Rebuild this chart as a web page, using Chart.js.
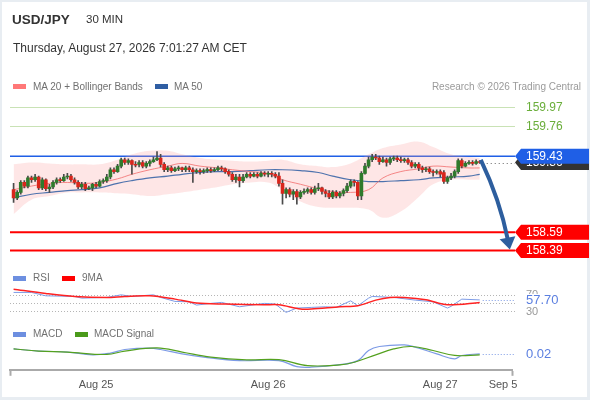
<!DOCTYPE html>
<html><head><meta charset="utf-8">
<script src="https://cdn.jsdelivr.net/npm/chart.js@4.4.1/dist/chart.umd.min.js"></script>
<style>
html,body{margin:0;padding:0;}
body{width:590px;height:400px;background:#e8edf2;position:relative;overflow:hidden;font-family:"Liberation Sans",Arial,sans-serif;}
#card{position:absolute;left:2px;top:2px;width:585px;height:395px;background:#fff;}
#c{position:absolute;left:0;top:0;}
.t{position:absolute;white-space:nowrap;color:#707070;font-size:10px;line-height:1;}
.sw{position:absolute;width:13px;height:5px;}
</style></head>
<body>
<div id="card"></div>
<canvas id="c" width="590" height="400"></canvas>
<div class="t" style="left:12px;top:12.5px;font-size:13.5px;font-weight:bold;color:#333">USD/JPY</div>
<div class="t" style="left:86px;top:13.5px;font-size:11.5px;color:#333">30 MIN</div>
<div class="t" style="left:13px;top:42px;font-size:12px;color:#333">Thursday, August 27, 2026 7:01:27 AM CET</div>
<div class="sw" style="left:13px;top:84px;background:#ff7878"></div>
<div class="t" style="left:33px;top:81.5px">MA 20 + Bollinger Bands</div>
<div class="sw" style="left:155px;top:84px;background:#2f5ea3"></div>
<div class="t" style="left:174px;top:81.5px">MA 50</div>
<div class="t" style="right:9px;top:81.5px;color:#9a9a9a">Research © 2026 Trading Central</div>
<div class="sw" style="left:13px;top:275.5px;background:#6d8fe0"></div>
<div class="t" style="left:33px;top:273px">RSI</div>
<div class="sw" style="left:62px;top:275.5px;background:#f00"></div>
<div class="t" style="left:82px;top:273px">9MA</div>
<div class="sw" style="left:13px;top:331.5px;background:#6d8fe0"></div>
<div class="t" style="left:33px;top:329.3px">MACD</div>
<div class="sw" style="left:75px;top:331.5px;background:#4a9a1a"></div>
<div class="t" style="left:94px;top:329.3px">MACD Signal</div>
<script>
// ---------- DATA ----------
const firstBar = -23; // bar index of first candle (Aug 25 00:00 = 0, 30-min bars)
const opens = [159.06,158.97,159.03,159.14,159.10,159.19,159.17,159.20,159.08,159.17,
159.07,159.09,159.14,159.17,159.16,159.20,159.21,159.17,159.14,159.09,
159.12,159.07,159.08,159.12,159.10,159.15,159.16,159.20,159.28,159.26,
159.32,159.39,159.36,159.38,159.34,159.34,159.36,159.32,159.35,159.37,
159.39,159.41,159.34,159.28,159.30,159.27,159.29,159.30,159.28,159.30,
159.28,159.26,159.27,159.26,159.27,159.28,159.27,159.28,159.30,159.29,
159.26,159.23,159.17,159.20,159.16,159.20,159.23,159.21,159.23,159.21,
159.24,159.23,159.24,159.23,159.21,159.13,159.02,159.06,159.01,159.04,
158.98,159.03,159.04,159.06,159.03,159.07,159.08,159.04,159.02,158.98,
159.03,158.99,159.02,159.05,159.10,159.15,159.14,158.99,159.24,159.32,
159.39,159.42,159.41,159.37,159.39,159.36,159.40,159.41,159.39,159.38,
159.39,159.36,159.32,159.34,159.30,159.28,159.29,159.26,159.25,159.26,
159.25,159.15,159.19,159.21,159.26,159.38,159.32,159.35,159.36,159.35,
159.37];
const closes = [158.97,159.03,159.14,159.10,159.19,159.17,159.20,159.08,159.17,159.07,
159.09,159.14,159.17,159.16,159.20,159.21,159.17,159.14,159.09,159.12,
159.07,159.08,159.12,159.10,159.15,159.16,159.20,159.28,159.26,159.32,
159.39,159.36,159.38,159.34,159.33,159.36,159.32,159.35,159.37,159.39,
159.41,159.34,159.28,159.30,159.27,159.29,159.30,159.28,159.30,159.28,
159.26,159.27,159.26,159.27,159.28,159.27,159.28,159.30,159.29,159.26,
159.23,159.17,159.20,159.16,159.20,159.23,159.21,159.23,159.21,159.24,
159.23,159.24,159.23,159.21,159.13,159.02,159.06,159.01,159.04,158.98,
159.03,159.04,159.06,159.03,159.07,159.08,159.04,159.02,158.98,159.03,
158.99,159.02,159.05,159.10,159.15,159.14,158.99,159.24,159.32,159.39,
159.42,159.41,159.37,159.39,159.36,159.40,159.41,159.39,159.38,159.39,
159.36,159.32,159.34,159.30,159.28,159.29,159.26,159.25,159.26,159.23,
159.15,159.19,159.21,159.26,159.38,159.32,159.35,159.36,159.35,159.37,
159.36];
const highs = [159.13,159.05,159.16,159.16,159.21,159.21,159.23,159.21,159.19,159.18,
159.12,159.16,159.19,159.19,159.23,159.24,159.23,159.19,159.16,159.14,
159.14,159.10,159.13,159.14,159.17,159.18,159.23,159.30,159.30,159.34,
159.41,159.41,159.40,159.39,159.37,159.38,159.38,159.37,159.39,159.42,
159.48,159.45,159.36,159.32,159.32,159.31,159.32,159.31,159.32,159.32,
159.30,159.29,159.29,159.29,159.30,159.30,159.30,159.32,159.32,159.30,
159.28,159.25,159.23,159.23,159.23,159.25,159.25,159.25,159.25,159.26,
159.26,159.26,159.26,159.25,159.25,159.17,159.08,159.08,159.06,159.06,
159.05,159.07,159.08,159.08,159.10,159.13,159.09,159.06,159.05,159.05,
159.05,159.04,159.07,159.13,159.17,159.17,159.15,159.26,159.35,159.42,
159.45,159.45,159.43,159.42,159.41,159.42,159.43,159.43,159.42,159.41,
159.41,159.38,159.36,159.36,159.32,159.31,159.31,159.28,159.28,159.28,
159.27,159.21,159.24,159.28,159.40,159.40,159.37,159.38,159.38,159.39,
159.38];
const lows = [158.92,158.95,159.01,159.08,159.08,159.14,159.15,159.06,159.06,159.05,
159.03,159.07,159.12,159.14,159.15,159.18,159.15,159.12,159.07,159.07,
159.05,159.06,159.05,159.08,159.09,159.13,159.14,159.18,159.24,159.25,
159.30,159.34,159.34,159.23,159.31,159.31,159.30,159.30,159.32,159.36,
159.38,159.31,159.26,159.26,159.25,159.26,159.27,159.26,159.26,159.26,
159.14,159.24,159.23,159.24,159.25,159.25,159.26,159.27,159.27,159.24,
159.21,159.15,159.14,159.09,159.14,159.19,159.19,159.20,159.19,159.20,
159.21,159.20,159.20,159.19,159.10,158.90,158.97,158.98,158.95,158.90,
158.96,159.01,159.02,159.01,159.01,159.05,159.01,158.98,158.96,158.96,
158.97,158.97,158.99,159.03,159.08,159.10,158.95,158.95,159.23,159.30,
159.37,159.39,159.34,159.36,159.32,159.34,159.38,159.37,159.36,159.36,
159.34,159.30,159.30,159.27,159.25,159.26,159.24,159.21,159.23,159.20,
159.13,159.13,159.17,159.19,159.24,159.30,159.31,159.34,159.33,159.34,
159.35];

const maIdx     = [-23,-18,-13,-8,-4,1,6,10,15,20,24,29,34,38,43,48,52,57,62,66,71,76,80,85,90,94,99,104,107];
const bandUpper = [159.34,159.36,159.35,159.34,159.34,159.34,159.39,159.45,159.49,159.49,159.45,159.41,159.39,159.38,159.37,159.38,159.39,159.34,159.32,159.31,159.35,159.45,159.52,159.56,159.59,159.53,159.45,159.42,159.41];
const bandLower = [158.79,158.95,158.99,159.03,159.03,159.03,159.02,159.01,158.99,159.01,159.03,159.06,159.09,159.12,159.14,159.14,159.06,158.93,158.87,158.86,158.86,158.84,158.75,158.82,158.98,159.12,159.17,159.17,159.17];
const ma20      = [159.06,159.10,159.13,159.14,159.13,159.14,159.18,159.23,159.28,159.32,159.35,159.32,159.30,159.28,159.26,159.24,159.17,159.12,159.07,159.04,159.03,159.06,159.19,159.26,159.29,159.32,159.31,159.30,159.30];
const ma50      = [158.97,159.01,159.03,159.05,159.06,159.08,159.13,159.16,159.19,159.21,159.23,159.25,159.26,159.26,159.27,159.28,159.28,159.27,159.25,159.21,159.17,159.15,159.15,159.16,159.17,159.19,159.20,159.21,159.23];

const resistanceLevels = [159.97, 159.76];
const pivotLevel = 159.43;
const supportLevels = [158.59, 158.39];
const arrowPath = [[107.3,159.39],[112.6,158.95],[115.4,158.40]]; // start, control, target

const rsiIdx  = [-23,-18,-14,-6,-4,3,7,10,16,18,22,26,28,32,35,40,47,50,53,56,60,64,67,71,73,76,77,83,89,94,98,99,102,107];
const rsiVals = [75.8,75.8,67.6,66.1,62.0,63.7,70.0,66.1,70.0,63.7,54.1,53.1,45.2,49.3,51.7,41.1,49.3,47.6,27.6,38.0,39.6,41.1,39.6,55.5,43.5,62.0,66.1,63.7,57.2,53.1,38.0,42.1,59.6,57.7];
const rsiMaIdx  = [-23,-14,-6,3,8,15,22,28,36,47,51,57,60,68,73,78,82,86,92,98,107];
const rsiMaVals = [83.7,73.4,66.1,63.7,66.1,67.6,59.6,50,47.6,45.9,45.9,35.6,35.6,41.1,43.5,57.2,63.7,63.7,57.9,45.9,51.7];
const rsiLevels = [70, 50, 30];
const rsiLabels = ['70','30'];

const macdIdx  = [-23,-16,-8,-1,4,8,15,18,24,30,40,51,56,60,68,73,76,79,86,89,95,100,102,107];
const macdVals = [0.045,0.034,0.029,0.015,0.024,0.042,0.049,0.042,0.020,0.004,-0.014,-0.014,-0.044,-0.047,-0.034,-0.014,0.037,0.057,0.065,0.054,0.020,-0.005,0.012,0.020];
const signalIdx  = [-23,-16,-8,3,8,17,24,32,42,51,59,68,72,78,83,88,94,100,107];
const signalVals = [0.045,0.034,0.029,0.017,0.034,0.050,0.029,0.004,-0.010,-0.009,-0.039,-0.035,-0.022,0.015,0.045,0.057,0.037,0.012,0.015];

const xTickValues = [0, 48, 96, 113.5];
const xTickLabels = ['Aug 25', 'Aug 26', 'Aug 27', 'Sep 5'];
const xRange = [-24, 116];

// ---------- BUILD ----------
Chart.defaults.font.family = '"Liberation Sans", Arial, sans-serif';
const pts = (xs, ys) => xs.map((x, i) => ({x, y: ys[i]}));
const barX = opens.map((_, i) => firstBar + i);
const lastX = barX[barX.length - 1];
const UP = '#2f7a2c', DOWN = '#d9261c';

const datasets = [
  {type:'line', data: pts(maIdx, bandUpper), yAxisID:'yP', borderWidth:0, pointRadius:0, fill:'+1', backgroundColor:'rgba(250,150,150,0.24)', tension:0.4, order:10},
  {type:'line', data: pts(maIdx, bandLower), yAxisID:'yP', borderWidth:0, pointRadius:0, fill:false, tension:0.4, order:10},
  {type:'line', data: pts(maIdx, ma20), yAxisID:'yP', borderColor:'rgba(240,100,100,0.75)', borderWidth:1, pointRadius:0, tension:0.4, order:9},
  {type:'line', data: pts(maIdx, ma50), yAxisID:'yP', borderColor:'rgba(47,94,163,0.85)', borderWidth:1.2, pointRadius:0, tension:0.4, order:9},
  {type:'bar', data: barX.map((x,i)=>({x, y:[lows[i], highs[i]]})), yAxisID:'yP', barThickness:1, backgroundColor:'#4a4a4a', grouped:false, order:3},
  {type:'bar', data: barX.map((x,i)=>({x, y:[opens[i], closes[i]]})), yAxisID:'yP', barThickness:3, minBarLength:1, grouped:false, order:2,
    backgroundColor: opens.map((o,i)=> closes[i] >= o ? UP : DOWN)},
  {type:'line', data: pts(rsiIdx, rsiVals), yAxisID:'yR', borderColor:'#7d9be6', borderWidth:1, pointRadius:0, tension:0, order:5},
  {type:'line', data: pts(rsiMaIdx, rsiMaVals), yAxisID:'yR', borderColor:'#f22', borderWidth:1.5, pointRadius:0, tension:0.3, order:4},
  {type:'line', data: pts(macdIdx, macdVals), yAxisID:'yM', borderColor:'#7d9be6', borderWidth:1.2, pointRadius:0, tension:0.4, order:5},
  {type:'line', data: pts(signalIdx, signalVals), yAxisID:'yM', borderColor:'#54a11f', borderWidth:1.2, pointRadius:0, tension:0.4, order:4}
];

function tag(ctx, tipX, y, text, bg) {
  const h = 15, w = 68;
  ctx.fillStyle = bg;
  ctx.beginPath();
  ctx.moveTo(tipX, y); ctx.lineTo(tipX + 6, y - h/2); ctx.lineTo(tipX + 6 + w, y - h/2);
  ctx.lineTo(tipX + 6 + w, y + h/2); ctx.lineTo(tipX + 6, y + h/2); ctx.closePath(); ctx.fill();
  ctx.fillStyle = '#fff'; ctx.font = '12px "Liberation Sans", Arial, sans-serif';
  ctx.textBaseline = 'middle'; ctx.textAlign = 'left';
  ctx.fillText(text, tipX + 11, y + 0.5);
}

const overlay = {
  id: 'overlay',
  beforeDatasetsDraw(chart) {
    const {ctx, chartArea: a, scales: {x, yP, yR}} = chart;
    const right = a.right + 3;
    ctx.save();
    ctx.setLineDash([1, 2]); ctx.strokeStyle = '#b5b5b5'; ctx.lineWidth = 1;
    rsiLevels.forEach(v => { const y = Math.round(yR.getPixelForValue(v)) + 0.5; ctx.beginPath(); ctx.moveTo(a.left, y); ctx.lineTo(right, y); ctx.stroke(); });
    ctx.setLineDash([]);
    ctx.strokeStyle = '#c9e2b5'; ctx.lineWidth = 1;
    resistanceLevels.forEach(v => { const y = Math.round(yP.getPixelForValue(v)) + 0.5; ctx.beginPath(); ctx.moveTo(a.left, y); ctx.lineTo(right, y); ctx.stroke(); });
    ctx.strokeStyle = '#1f5fe6'; ctx.lineWidth = 1.5;
    { const y = yP.getPixelForValue(pivotLevel); ctx.beginPath(); ctx.moveTo(a.left, y); ctx.lineTo(right, y); ctx.stroke(); }
    ctx.strokeStyle = '#ff0000'; ctx.lineWidth = 2;
    supportLevels.forEach(v => { const y = yP.getPixelForValue(v); ctx.beginPath(); ctx.moveTo(a.left, y); ctx.lineTo(right, y); ctx.stroke(); });
    ctx.restore();
  },
  afterDatasetsDraw(chart) {
    const {ctx, chartArea: a, scales: {x, yP, yR, yM}} = chart;
    const tipX = a.right + 3;
    ctx.save();
    const lastClose = closes[closes.length - 1];
    const yc = yP.getPixelForValue(lastClose);
    ctx.setLineDash([1, 3]); ctx.strokeStyle = '#666'; ctx.lineWidth = 1;
    ctx.beginPath(); ctx.moveTo(x.getPixelForValue(lastX) + 3, Math.round(yc) + 0.5); ctx.lineTo(tipX, Math.round(yc) + 0.5); ctx.stroke();
    ctx.setLineDash([]);
    tag(ctx, tipX, yc, lastClose.toFixed(2), '#333');
    tag(ctx, tipX, yP.getPixelForValue(pivotLevel), pivotLevel.toFixed(2), '#1f5fe6');
    supportLevels.forEach(v => tag(ctx, tipX, yP.getPixelForValue(v), v.toFixed(2), '#ff0000'));
    ctx.fillStyle = '#6aae3a'; ctx.font = '12px "Liberation Sans", Arial, sans-serif'; ctx.textBaseline = 'middle'; ctx.textAlign = 'left';
    resistanceLevels.forEach(v => ctx.fillText(v.toFixed(2), tipX + 11, yP.getPixelForValue(v) + 0.5));

    // arrow
    const P = arrowPath.map(p => [x.getPixelForValue(p[0]), yP.getPixelForValue(p[1])]);
    const ang = Math.atan2(P[2][1] - P[1][1], P[2][0] - P[1][0]);
    const headL = 12, headW = 8;
    const end = [P[2][0] - Math.cos(ang) * headL * 0.8, P[2][1] - Math.sin(ang) * headL * 0.8];
    ctx.strokeStyle = '#2d5e9e'; ctx.lineWidth = 4; ctx.lineCap = 'butt';
    ctx.beginPath(); ctx.moveTo(P[0][0], P[0][1]); ctx.quadraticCurveTo(P[1][0], P[1][1], end[0], end[1]); ctx.stroke();
    ctx.fillStyle = '#2d5e9e';
    ctx.beginPath();
    ctx.moveTo(P[2][0], P[2][1]);
    ctx.lineTo(P[2][0] - Math.cos(ang) * headL - Math.sin(ang) * headW, P[2][1] - Math.sin(ang) * headL + Math.cos(ang) * headW);
    ctx.lineTo(P[2][0] - Math.cos(ang) * headL + Math.sin(ang) * headW, P[2][1] - Math.sin(ang) * headL - Math.cos(ang) * headW);
    ctx.closePath(); ctx.fill();

    // RSI labels
    const rsiLast = rsiVals[rsiVals.length - 1];
    const yr = yR.getPixelForValue(rsiLast);
    ctx.setLineDash([1, 2]); ctx.strokeStyle = '#7d9be6'; ctx.lineWidth = 1;
    ctx.beginPath(); ctx.moveTo(x.getPixelForValue(rsiIdx[rsiIdx.length - 1]) + 3, Math.round(yr) + 0.5); ctx.lineTo(tipX, Math.round(yr) + 0.5); ctx.stroke();
    ctx.setLineDash([]);
    ctx.fillStyle = '#999'; ctx.font = '11px "Liberation Sans", Arial, sans-serif';
    ctx.fillText(rsiLabels[0], tipX + 11, yR.getPixelForValue(rsiLevels[0]) + 0.5);
    ctx.fillText(rsiLabels[1], tipX + 11, yR.getPixelForValue(rsiLevels[2]) + 0.5);
    ctx.fillStyle = '#fff'; ctx.fillRect(tipX + 8, yr - 6, 44, 13);
    ctx.fillStyle = '#5b7fe0'; ctx.font = '13px "Liberation Sans", Arial, sans-serif';
    ctx.fillText(rsiLast.toFixed(2), tipX + 11, yr + 0.5);

    // MACD label
    const mLast = macdVals[macdVals.length - 1];
    const ym = yM.getPixelForValue(mLast);
    ctx.setLineDash([1, 2]); ctx.strokeStyle = '#7d9be6';
    ctx.beginPath(); ctx.moveTo(x.getPixelForValue(macdIdx[macdIdx.length - 1]) + 3, Math.round(ym) + 0.5); ctx.lineTo(tipX, Math.round(ym) + 0.5); ctx.stroke();
    ctx.setLineDash([]);
    ctx.fillStyle = '#5b7fe0'; ctx.font = '13px "Liberation Sans", Arial, sans-serif';
    ctx.fillText(mLast.toFixed(2), tipX + 11, ym + 0.5);
    ctx.restore();
  }
};

const edgeTicks = xRange.slice();
new Chart(document.getElementById('c'), {
  type: 'line',
  data: { datasets },
  plugins: [overlay],
  options: {
    responsive: false, animation: false,
    layout: { padding: { left: 10, right: 78, top: 100, bottom: 5 } },
    plugins: { legend: { display: false }, tooltip: { enabled: false } },
    scales: {
      x: {
        type: 'linear', min: xRange[0], max: xRange[1], offset: false,
        afterBuildTicks: s => { s.ticks = [xRange[0], ...xTickValues, xRange[1]].map(v => ({value: v})); },
        ticks: { autoSkip: false, maxRotation: 0, color: '#555', font: { size: 11 }, padding: 3,
          callback: v => { const i = xTickValues.indexOf(v); return i >= 0 ? xTickLabels[i] : ''; } },
        grid: { display: true, drawOnChartArea: false, drawTicks: true, tickLength: 6, tickWidth: 2, offset: false,
          tickColor: c => (c.tick && edgeTicks.includes(c.tick.value)) ? '#aaa' : 'rgba(0,0,0,0)' },
        border: { display: true, color: '#aaa', width: 2 }
      },
      yP: { type: 'linear', display: false, min: 157.072, max: 160.05 },
      yR: { type: 'linear', display: false, min: -111.29, max: 541.09 },
      yM: { type: 'linear', display: false, min: -0.06, max: 1.295 }
    }
  }
});
</script>
</body></html>
